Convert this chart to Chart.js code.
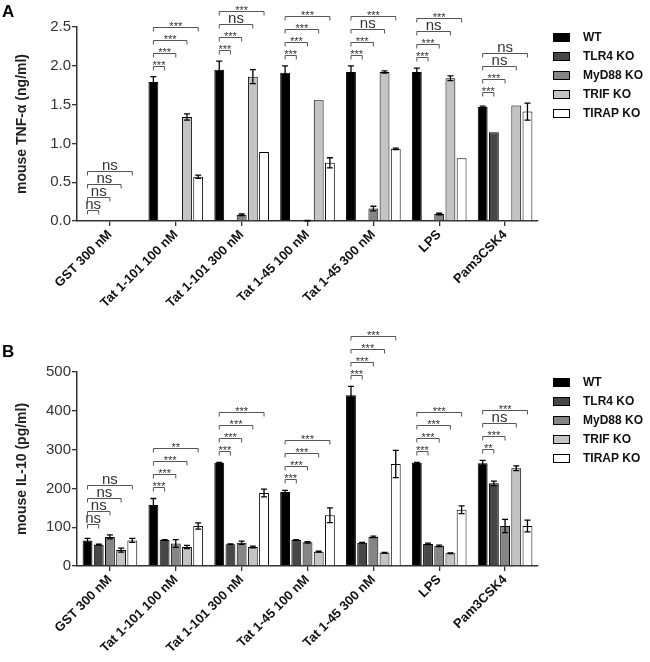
<!DOCTYPE html>
<html>
<head>
<meta charset="utf-8">
<script src="https://cdn.jsdelivr.net/npm/chart.js@4.4.0/dist/chart.umd.min.js"></script>
<style>
  body { margin: 0; background: #fff; }
  canvas { display: block; }
</style>
</head>
<body>
<canvas id="chartA" width="650" height="322"></canvas>
<canvas id="chartB" width="650" height="340"></canvas>
<script>
const categories = ['GST 300 nM', 'Tat 1-101 100 nM', 'Tat 1-101 300 nM', 'Tat 1-45 100 nM',
                    'Tat 1-45 300 nM', 'LPS', 'Pam3CSK4'];
const seriesNames = ['WT', 'TLR4 KO', 'MyD88 KO', 'TRIF KO', 'TIRAP KO'];
const seriesColors = ['#000000', '#474747', '#858585', '#c4c4c4', '#ffffff'];

// Panel A - mouse TNF-alpha (ng/ml)
const tnfWT       = [0, 1.79, 1.95, 1.91, 1.92, 1.92, 1.47];
const tnfWTErr    = [0, 0.07, 0.11, 0.09, 0.08, 0.05, 0.01];
const tnfTLR4     = [0, 0, 0, 0, 0, 0, 1.145];
const tnfTLR4Err  = [0, 0, 0, 0, 0, 0, 0];
const tnfMyD88    = [0, 0, 0.08, 0.006, 0.16, 0.09, 0];
const tnfMyD88Err = [0, 0, 0.01, 0.003, 0.03, 0.01, 0];
const tnfTRIF     = [0, 1.34, 1.86, 1.555, 1.92, 1.84, 1.49];
const tnfTRIFErr  = [0, 0.04, 0.09, 0, 0.015, 0.03, 0];
const tnfTIRAP    = [0, 0.57, 0.89, 0.75, 0.93, 0.81, 1.41];
const tnfTIRAPErr = [0, 0.02, 0, 0.065, 0.01, 0, 0.11];
const tnfTicks    = [0, 0.5, 1.0, 1.5, 2.0, 2.5];
// WT vs TLR4 / MyD88 / TRIF / TIRAP
const tnfSig = [
    ['ns', 'ns', 'ns', 'ns'],
    ['***', '***', '***', '***'],
    ['***', '***', 'ns', '***'],
    ['***', '***', '***', '***'],
    ['***', '***', 'ns', '***'],
    ['***', '***', 'ns', '***'],
    ['***', '***', 'ns', 'ns']
];

// Panel B - mouse IL-10 (pg/ml)
const il10WT       = [66, 157, 266, 191, 440, 266, 265];
const il10WTErr    = [5, 17, 1, 4, 23, 1, 7];
const il10TLR4     = [55, 67, 56, 67, 60, 57, 213];
const il10TLR4Err  = [1, 1, 1, 1, 1, 2, 6];
const il10MyD88    = [75, 58, 60, 61, 75, 52, 103];
const il10MyD88Err = [5, 10, 4, 2, 2, 2, 17];
const il10TRIF     = [41, 49, 49, 37, 34, 33, 252];
const il10TRIFErr  = [5, 4, 2, 1, 1, 1, 6];
const il10TIRAP    = [66, 103, 188, 131, 263, 145, 103];
const il10TIRAPErr = [5, 8, 10, 19, 35, 10, 15];
const il10Ticks    = [0, 100, 200, 300, 400, 500];
const il10Sig = [
    ['ns', 'ns', 'ns', 'ns'],
    ['***', '***', '***', '**'],
    ['***', '***', '***', '***'],
    ['***', '***', '***', '***'],
    ['***', '***', '***', '***'],
    ['***', '***', '***', '***'],
    ['**', '***', 'ns', '***']
];

Chart.defaults.font.family = '"Liberation Sans", Arial, sans-serif';

function buildDatasets(values, errors) {
    return values.map(function(vals, i) {
        return {
            label: seriesNames[i],
            data: vals,
            err: errors[i],
            backgroundColor: seriesColors[i],
            borderColor: '#000',
            borderWidth: 1,
            categoryPercentage: 0.85,
            barPercentage: 0.88
        };
    });
}

// error bars, significance brackets, legend and panel letter
const marksPlugin = {
    id: 'marks',
    afterDatasetsDraw(chart, args, opts) {
        const ctx = chart.ctx;
        const yScale = chart.scales.y;
        const datasets = chart.data.datasets;
        const metas = datasets.map((ds, i) => chart.getDatasetMeta(i));
        ctx.save();

        // error bars
        ctx.strokeStyle = '#000';
        ctx.lineWidth = 1.3;
        datasets.forEach(function(ds, i) {
            metas[i].data.forEach(function(bar, j) {
                const e = ds.err[j];
                if (!e) return;
                const v = ds.data[j];
                const top = yScale.getPixelForValue(v + e);
                const bot = yScale.getPixelForValue(Math.max(v - e, 0));
                ctx.beginPath();
                ctx.moveTo(bar.x, bot); ctx.lineTo(bar.x, top);
                ctx.moveTo(bar.x - 3, top); ctx.lineTo(bar.x + 3, top);
                ctx.moveTo(bar.x - 3, bot); ctx.lineTo(bar.x + 3, bot);
                ctx.stroke();
            });
        });

        // brackets WT vs each KO
        opts.sig.forEach(function(labels, j) {
            let topVal = 0;
            datasets.forEach(function(ds) {
                topVal = Math.max(topVal, ds.data[j] + (ds.err[j] || 0));
            });
            const base = yScale.getPixelForValue(topVal) - 11;
            const x0 = metas[0].data[j].x;
            labels.forEach(function(lab, k) {
                const x1 = metas[k + 1].data[j].x;
                const ly = Math.round(base - k * 13) + 0.5;
                ctx.strokeStyle = '#555';
                ctx.lineWidth = 1;
                ctx.beginPath();
                ctx.moveTo(x0, ly + 4); ctx.lineTo(x0, ly);
                ctx.lineTo(x1, ly); ctx.lineTo(x1, ly + 4);
                ctx.stroke();
                ctx.fillStyle = '#333';
                ctx.textAlign = 'center';
                ctx.textBaseline = 'alphabetic';
                if (lab === 'ns') {
                    ctx.font = '15px "Liberation Sans", Arial, sans-serif';
                    ctx.fillText(lab, (x0 + x1) / 2, ly - 2);
                } else {
                    ctx.font = '11px "Liberation Sans", Arial, sans-serif';
                    ctx.fillText(lab, (x0 + x1) / 2, ly + 2.5);
                }
            });
        });

        // legend
        const area = chart.chartArea;
        datasets.forEach(function(ds, i) {
            const cy = Math.round(area.top + 10 + i * 19);
            ctx.fillStyle = ds.backgroundColor;
            ctx.fillRect(area.right + 15, cy - 4, 17, 9);
            ctx.strokeStyle = '#000';
            ctx.lineWidth = 1;
            ctx.strokeRect(area.right + 15.5, cy - 3.5, 16, 8);
            ctx.fillStyle = '#111';
            ctx.font = 'bold 12px "Liberation Sans", Arial, sans-serif';
            ctx.textAlign = 'left';
            ctx.textBaseline = 'middle';
            ctx.fillText(ds.label, area.right + 45, cy + 1);
        });

        // panel letter
        ctx.fillStyle = '#000';
        ctx.font = 'bold 17px "Liberation Sans", Arial, sans-serif';
        ctx.textAlign = 'left';
        ctx.textBaseline = 'alphabetic';
        ctx.fillText(opts.letter, 2, opts.letterY);
        ctx.restore();
    }
};

function buildOptions(yTitle, ticks, digits, padTop, xHeight, sig, letter, letterY) {
    return {
        responsive: false,
        animation: false,
        layout: { padding: { top: padTop, right: 112, left: 0, bottom: 0 } },
        plugins: {
            legend: { display: false },
            tooltip: { enabled: false },
            marks: { sig: sig, letter: letter, letterY: letterY }
        },
        scales: {
            x: {
                grid: { offset: false, drawOnChartArea: false, tickLength: 5, color: '#333', lineWidth: 1.3 },
                border: { color: '#333', width: 1.5 },
                ticks: {
                    autoSkip: false, maxRotation: 45, minRotation: 45, padding: 1,
                    color: '#111', font: { weight: 'bold', size: 13 }
                },
                afterFit: function(scale) { scale.height = xHeight; }
            },
            y: {
                min: ticks[0],
                max: ticks[ticks.length - 1],
                afterBuildTicks: function(scale) {
                    scale.ticks = ticks.map(v => ({ value: v }));
                },
                grid: { drawOnChartArea: false, tickLength: 5, color: '#333', lineWidth: 1.3 },
                border: { color: '#333', width: 1.5 },
                ticks: {
                    padding: 1, color: '#333', font: { size: 15 },
                    callback: v => v.toFixed(digits)
                },
                title: {
                    display: true, text: yTitle, color: '#222',
                    font: { weight: 'bold', size: 14 },
                    padding: { top: 14, bottom: 0 }
                },
                afterFit: function(scale) { scale.width = 77; }
            }
        }
    };
}

new Chart(document.getElementById('chartA'), {
    type: 'bar',
    data: {
        labels: categories,
        datasets: buildDatasets(
            [tnfWT, tnfTLR4, tnfMyD88, tnfTRIF, tnfTIRAP],
            [tnfWTErr, tnfTLR4Err, tnfMyD88Err, tnfTRIFErr, tnfTIRAPErr])
    },
    options: buildOptions('mouse TNF-α (ng/ml)', tnfTicks, 1, 27, 101, tnfSig, 'A', 17),
    plugins: [marksPlugin]
});

new Chart(document.getElementById('chartB'), {
    type: 'bar',
    data: {
        labels: categories,
        datasets: buildDatasets(
            [il10WT, il10TLR4, il10MyD88, il10TRIF, il10TIRAP],
            [il10WTErr, il10TLR4Err, il10MyD88Err, il10TRIFErr, il10TIRAPErr])
    },
    options: buildOptions('mouse IL-10 (pg/ml)', il10Ticks, 0, 50, 96, il10Sig, 'B', 35),
    plugins: [marksPlugin]
});
</script>
</body>
</html>
